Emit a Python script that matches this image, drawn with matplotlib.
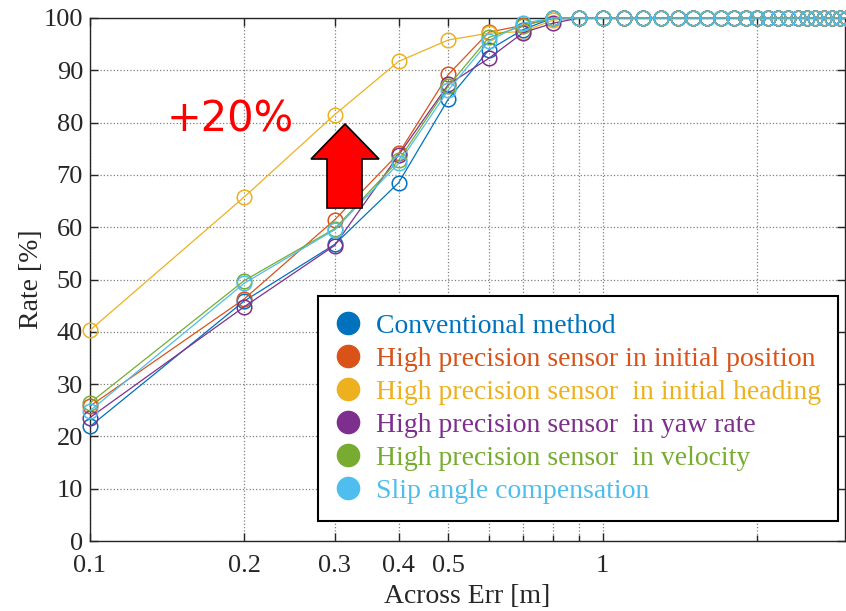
import numpy as np
import matplotlib
matplotlib.use("Agg")
import matplotlib.pyplot as plt
from matplotlib.lines import Line2D
from matplotlib.patches import Polygon
from matplotlib.ticker import FixedLocator, NullFormatter

# ---- data ----
x_vals = [0.1, 0.2, 0.3, 0.4, 0.5, 0.6, 0.7, 0.8, 0.9, 1.0,
          1.1, 1.2, 1.3, 1.4, 1.5, 1.6, 1.7, 1.8, 1.9, 2.0,
          2.1, 2.2, 2.3, 2.4, 2.5, 2.6, 2.7, 2.8, 2.9, 3.0]
tail = [100.0] * 21  # 1.0 ... 3.0 all reach 100 %

conventional = [21.9, 45.9, 56.7, 68.5, 84.5, 93.9, 97.8, 100.0, 100.0] + tail
init_position = [25.8, 46.3, 61.4, 74.1, 89.2, 97.3, 98.6, 100.0, 100.0] + tail
init_heading = [40.3, 65.8, 81.5, 91.7, 95.8, 97.1, 97.4, 99.6, 100.0] + tail
yaw_rate = [23.6, 44.8, 56.5, 73.8, 87.3, 92.3, 97.2, 99.0, 100.0] + tail
velocity = [26.4, 49.8, 59.7, 72.8, 87.0, 96.3, 98.5, 100.0, 100.0] + tail
slip_comp = [24.9, 49.3, 59.5, 72.2, 86.2, 95.6, 99.0, 100.0, 100.0] + tail

series_labels = ["Conventional method",
                 "High precision sensor in initial position",
                 "High precision sensor  in initial heading",
                 "High precision sensor  in yaw rate",
                 "High precision sensor  in velocity",
                 "Slip angle compensation"]
series_values = [conventional, init_position, init_heading, yaw_rate, velocity, slip_comp]
series_colors = ["#0072BD", "#D95319", "#EDB120", "#7E2F8E", "#77AC30", "#4DBEEE"]

x_major_ticks = [0.1, 0.2, 0.3, 0.4, 0.5, 1]
x_major_labels = ["0.1", "0.2", "0.3", "0.4", "0.5", "1"]
x_minor_ticks = [0.6, 0.7, 0.8, 0.9, 2, 3]
y_ticks = list(range(0, 101, 10))

serif = "Liberation Serif"

fig = plt.figure(figsize=(8.46, 6.11), dpi=100)
ax = fig.add_axes([90 / 846, 70 / 611, (845 - 90) / 846, (541 - 18) / 611])

for vals, col in zip(series_values, series_colors):
    ax.plot(x_vals, vals, color=col, linewidth=0.9, marker="o", markersize=10.5,
            markerfacecolor="none", markeredgecolor=col, markeredgewidth=1.1,
            clip_on=False, zorder=3)

ax.set_xscale("log")
ax.set_xlim(0.1, 2.97)
ax.set_ylim(0, 100)

ax.xaxis.set_major_locator(FixedLocator(x_major_ticks))
ax.set_xticklabels(x_major_labels)
ax.xaxis.set_minor_locator(FixedLocator(x_minor_ticks))
ax.xaxis.set_minor_formatter(NullFormatter())
ax.set_yticks(y_ticks)

ax.tick_params(axis="both", which="both", direction="in", top=True, right=True,
               labelsize=19, length=6, width=1.0, colors="#262626", labelcolor="#262626")
ax.tick_params(axis="x", which="minor", length=4)
ax.tick_params(axis="x", pad=10)
ax.tick_params(axis="y", pad=5)
for lab in ax.get_xticklabels() + ax.get_yticklabels():
    lab.set_fontfamily(serif)

ax.grid(True, which="major", axis="both", linestyle=":", color="#808080", linewidth=0.9)
ax.grid(True, which="minor", axis="x", linestyle=":", color="#808080", linewidth=0.9)
ax.set_axisbelow(True)

for sp in ax.spines.values():
    sp.set_color("#262626")
    sp.set_linewidth(1.0)

ax.set_xlabel("Across Err [m]", fontsize=20, fontfamily=serif, color="#262626", labelpad=5)
ax.set_ylabel("Rate [%]", fontsize=20, fontfamily=serif, color="#262626", labelpad=0)

# annotation: +20% and red arrow (figure pixel coordinates -> axes fraction)
def px(xp, yp):
    return ((xp - 90) / (845 - 90), (541 - yp) / (541 - 18))

tx, ty = px(230, 120)
ax.text(tx, ty, "+20%", transform=ax.transAxes, fontsize=30, color="#FF0000",
        fontfamily="DejaVu Sans", ha="center", va="center", zorder=5)

arrow_pts = [px(345, 124), px(379, 159), px(362, 159), px(362, 208),
             px(327, 208), px(327, 159), px(311, 159)]
ax.add_patch(Polygon(arrow_pts, closed=True, transform=ax.transAxes,
                     facecolor="#FF0000", edgecolor="black", linewidth=1.2, zorder=6))

handles = [Line2D([0], [0], linestyle="none", marker="o", markersize=16,
                  markerfacecolor=c, markeredgecolor=c) for c in series_colors]
leg = ax.legend(handles, series_labels, loc="lower right",
                bbox_to_anchor=px(838, 521), prop={"family": serif, "size": 20},
                frameon=True, fancybox=False, framealpha=1, edgecolor="black",
                handlelength=0.9, handletextpad=0.55, labelspacing=0.27,
                borderpad=0.62, borderaxespad=0)
leg.get_frame().set_linewidth(1.5)
for txt, c in zip(leg.get_texts(), series_colors):
    txt.set_color(c)
leg.set_zorder(10)

fig.savefig("out.png", dpi=100)
